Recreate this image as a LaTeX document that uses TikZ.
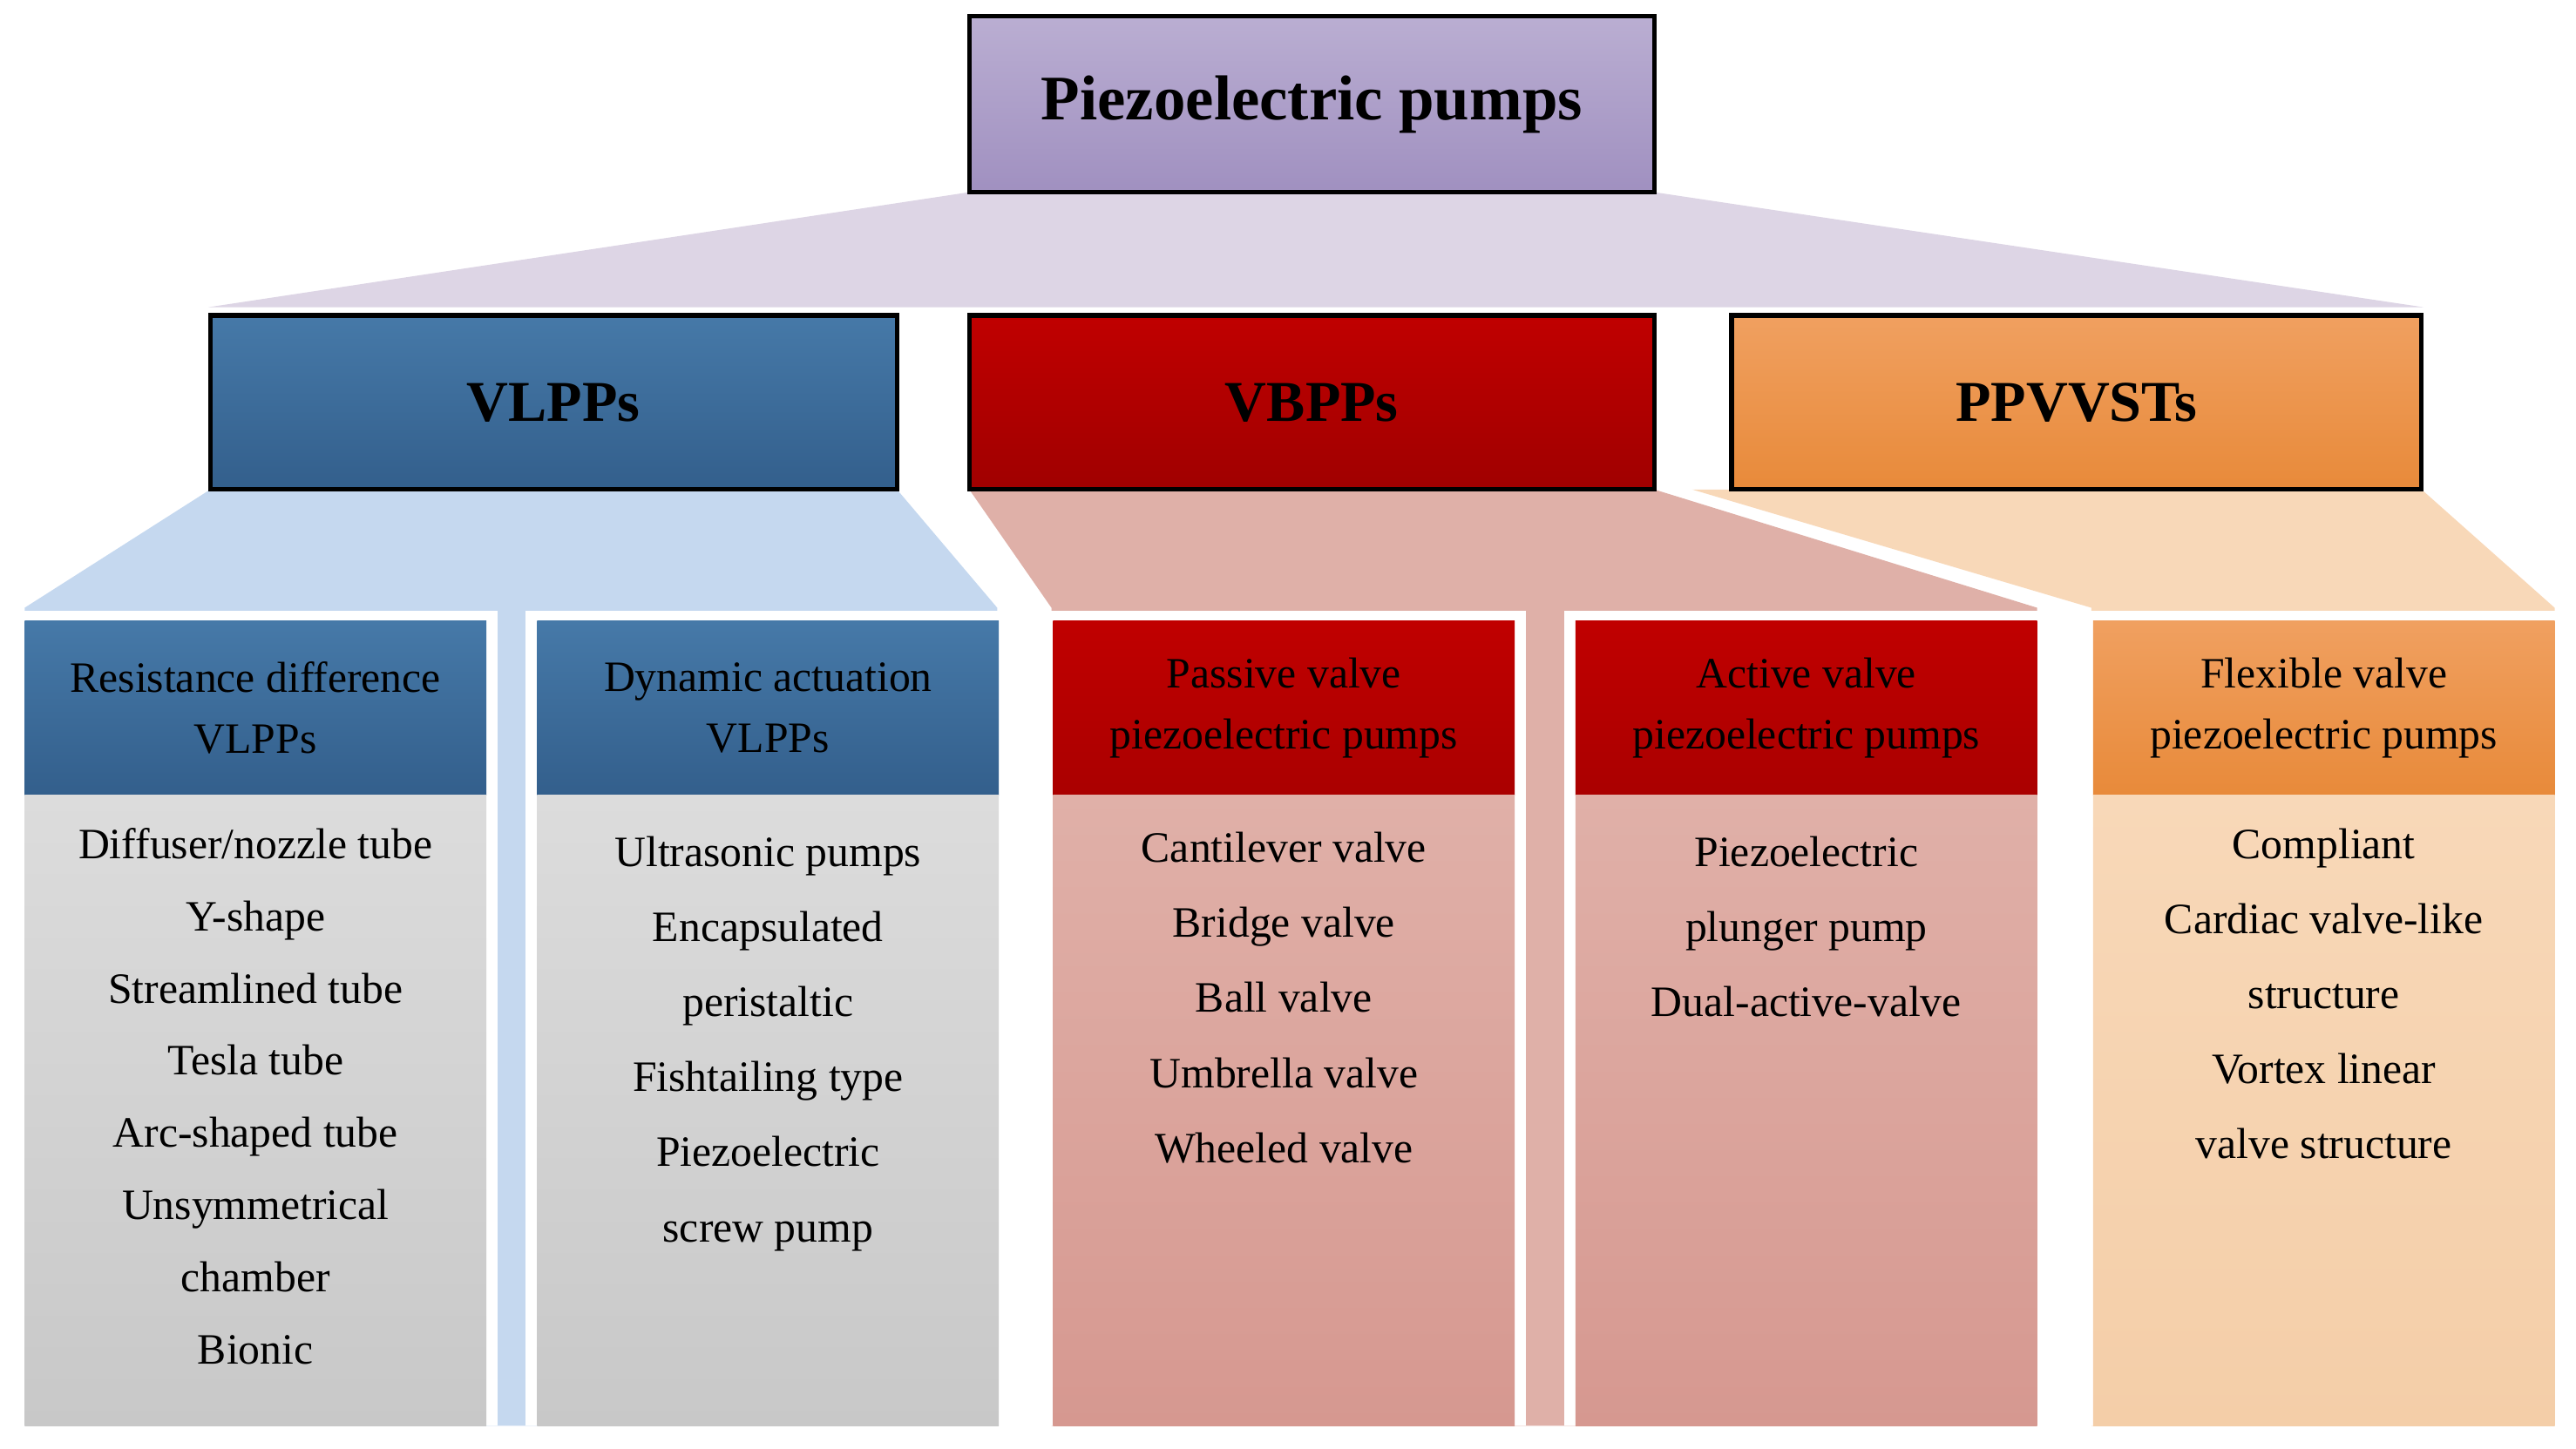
\documentclass[tikz,border=0pt]{standalone}
\usepackage{fontspec}
\setmainfont{Liberation Serif}
\begin{document}
\begin{tikzpicture}[x=0.02cm,y=-0.02cm,
 top/.style={draw=black,line width=1.6pt,font=\fontsize{22}{26}\selectfont\bfseries},
 sec/.style={draw=black,line width=1.6pt,font=\fontsize{20}{24}\selectfont\bfseries},
 hd/.style={font=\fontsize{15}{21}\selectfont,align=center},
 bd/.style={font=\fontsize{15}{26}\selectfont,align=center,anchor=north}]
\useasboundingbox (0,0) rectangle (1568,882);
% trapezoids
\fill[fill={rgb,255:red,221;green,213;blue,229}] (590,117)--(1007,117)--(1475,187)--(127,187)--cycle;
\fill[fill={rgb,255:red,197;green,216;blue,239}] (128,298)--(546,298)--(607,370)--(607,868)--(15,868)--(15,370)--cycle;
\fill[fill={rgb,255:red,223;green,176;blue,168}] (590,298)--(1007,298)--(1240,370)--(1240,868)--(640,868)--(640,370)--cycle;
\fill[fill={rgb,255:red,248;green,216;blue,184}] (1030,298)--(1474,298)--(1555,370)--(1555,868)--(1273,868)--(1273,370)--cycle;
% top boxes
\node[top,top color={rgb,255:red,186;green,174;blue,210},bottom color={rgb,255:red,160;green,144;blue,192},minimum width=417*0.02cm,minimum height=107*0.02cm] (pp) at (798.5,63.5) {Piezoelectric pumps};
\node[sec,top color={rgb,255:red,70;green,121;blue,168},bottom color={rgb,255:red,51;green,95;blue,140},minimum width=418*0.02cm,minimum height=106*0.02cm] (vl) at (337,245) {VLPPs};
\node[sec,top color={rgb,255:red,192;green,0;blue,0},bottom color={rgb,255:red,160;green,0;blue,0},minimum width=417*0.02cm,minimum height=106*0.02cm] (vb) at (798.5,245) {VBPPs};
\node[sec,top color={rgb,255:red,240;green,160;blue,96},bottom color={rgb,255:red,232;green,138;blue,58},minimum width=420*0.02cm,minimum height=106*0.02cm] (pv) at (1264,245) {PPVVSTs};
% columns
\foreach \x/\ha/\hb/\ba/\bb/\n in {
 15/{70,121,168}/{51,95,140}/{220,220,220}/{200,200,200}/a,
 327/{70,121,168}/{51,95,140}/{220,220,220}/{200,200,200}/b,
 641/{192,0,0}/{170,0,0}/{224,176,168}/{214,152,144}/c,
 959/{192,0,0}/{170,0,0}/{224,176,168}/{214,152,144}/d,
 1274/{240,160,96}/{232,138,58}/{248,216,184}/{244,206,168}/e}{
 \definecolor{ha\n}{RGB}{\ha}\definecolor{hb\n}{RGB}{\hb}
 \definecolor{ba\n}{RGB}{\ba}\definecolor{bb\n}{RGB}{\bb}
 \fill[white] (\x-7,372) rectangle (\x+288,868);
 \shade[top color=ha\n,bottom color=hb\n] (\x,378) rectangle (\x+281,484);
 \shade[top color=ba\n,bottom color=bb\n] (\x,484) rectangle (\x+281,868);
 \coordinate (h\n) at (\x+140.5,431);
 \coordinate (b\n) at (\x+140.5,498);
}
\node[hd] at (ha) {Resistance difference\\VLPPs};
\node[hd] at (hb) {Dynamic actuation\\VLPPs};
\node[hd] at (hc) {Passive valve\\piezoelectric pumps};
\node[hd] at (hd) {Active valve\\piezoelectric pumps};
\node[hd] at (he) {Flexible valve\\piezoelectric pumps};
\node[bd] at (ba) {Diffuser/nozzle tube\\[-1pt]Y-shape\\[-1pt]Streamlined tube\\[-1pt]Tesla tube\\[-1pt]Arc-shaped tube\\[-1pt]Unsymmetrical\\[-1pt]chamber\\[-1pt]Bionic};
\node[bd] at ([yshift=-0.1cm]bb) {Ultrasonic pumps\\Encapsulated\\peristaltic\\Fishtailing type\\Piezoelectric\\screw pump};
\node[bd] at ([yshift=-0.05cm]bc) {Cantilever valve\\Bridge valve\\Ball valve\\Umbrella valve\\Wheeled valve};
\node[bd] at ([yshift=-0.1cm]bd) {Piezoelectric\\plunger pump\\Dual-active-valve};
\node[bd] at (be) {Compliant\\Cardiac valve-like\\structure\\Vortex linear\\valve structure};
\end{tikzpicture}
\end{document}
